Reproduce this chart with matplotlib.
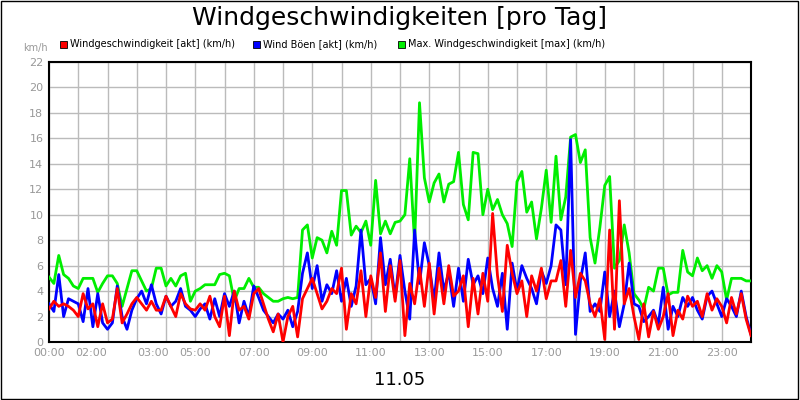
import numpy as np
import matplotlib.pyplot as plt
from matplotlib.patches import Rectangle

# ------------------ Data (10-minute samples, 00:00 - 24:00) ------------------
max_wind = [5.1, 4.6, 6.8, 5.3, 5.0, 4.4,  4.2, 5.0, 5.0, 5.0, 3.9, 4.6,
            5.2, 5.2, 4.6, 2.8, 4.2, 5.6,  5.6, 4.8, 4.0, 4.2, 5.8, 5.8,
            4.4, 5.0, 4.4, 5.2, 5.4, 3.2,  4.0, 4.2, 4.5, 4.5, 4.5, 5.3,
            5.4, 5.2, 3.2, 4.2, 4.2, 5.0,  4.3, 4.3, 3.8, 3.5, 3.2, 3.2,
            3.4, 3.5, 3.4, 3.5, 8.8, 9.2,  6.6, 8.2, 8.0, 7.0, 8.7, 7.6,
            11.9, 11.9, 8.4, 9.1, 8.6, 9.5,  7.6, 12.7, 8.5, 9.5, 8.5, 9.4,
            9.5, 10.0, 14.4, 7.8, 18.8, 12.9,  11.0, 12.5, 13.2, 11.0, 12.4, 12.6,
            14.9, 10.8, 9.6, 14.9, 14.8, 10.0,  12.0, 10.4, 11.2, 10.0, 9.3, 7.5,
            12.6, 13.4, 10.2, 11.0, 8.1, 10.5,  13.5, 9.4, 14.6, 9.6, 11.4, 16.1,
            16.3, 14.1, 15.1, 8.2, 6.2, 9.0,  12.3, 13.0, 5.8, 6.4, 9.2, 7.0,
            3.8, 3.3, 2.6, 4.3, 4.0, 5.8,  5.8, 3.7, 3.9, 3.9, 7.2, 5.5,
            5.2, 6.6, 5.6, 6.0, 5.0, 6.0,  5.5, 3.3, 5.0, 5.0, 5.0, 4.8, 4.8]

gust = [3.0, 2.4, 5.3, 2.0, 3.4, 3.2,  3.0, 1.6, 4.2, 1.2, 3.8, 1.5,
        1.0, 1.5, 4.4, 2.0, 1.0, 2.5,  3.4, 4.0, 3.0, 4.5, 3.0, 2.2,
        3.6, 2.8, 3.2, 4.2, 2.8, 2.5,  2.0, 2.6, 3.0, 1.8, 3.4, 2.0,
        3.8, 2.8, 4.0, 1.5, 3.2, 2.0,  4.4, 3.5, 2.5, 2.0, 1.5, 2.2,
        1.8, 2.5, 1.2, 2.4, 5.4, 7.0,  4.2, 6.0, 3.2, 4.5, 3.8, 5.6,
        3.2, 5.0, 2.8, 4.4, 8.8, 4.5,  5.0, 3.0, 8.2, 4.5, 6.5, 3.5,
        6.8, 4.0, 1.8, 8.8, 4.6, 7.8,  6.0, 3.2, 7.0, 4.0, 5.5, 2.8,
        5.8, 3.2, 6.5, 4.5, 5.2, 3.8,  6.6, 4.2, 2.8, 5.4, 1.0, 6.2,
        4.0, 6.0, 5.0, 4.2, 3.0, 5.6,  4.6, 6.0, 9.2, 8.8, 4.5, 15.9,
        0.6, 4.8, 7.0, 2.4, 3.0, 2.4,  5.5, 2.0, 4.0, 1.2, 3.0, 6.2,
        3.0, 2.8, 1.6, 2.0, 2.5, 1.4,  4.3, 1.0, 2.8, 2.0, 3.5, 2.8,
        3.5, 2.5, 1.8, 3.6, 4.0, 3.0,  2.0, 3.4, 2.8, 2.0, 4.0, 2.0, 0.6]

wind = [2.6, 3.2, 2.8, 3.0, 2.8, 2.5,  2.0, 3.8, 2.6, 3.0, 1.2, 3.0,
        1.5, 1.8, 4.2, 1.5, 2.2, 3.0,  3.5, 3.0, 2.5, 3.2, 2.5, 2.5,
        3.6, 2.8, 2.0, 3.8, 3.0, 2.6,  2.5, 3.0, 2.5, 3.6, 2.0, 1.2,
        3.6, 0.5, 4.0, 2.5, 2.8, 1.8,  3.8, 4.2, 3.0, 1.8, 0.8, 2.2,
        0.0, 2.0, 2.8, 0.4, 3.4, 4.2,  5.0, 3.8, 2.6, 3.2, 4.2, 3.8,
        5.8, 1.0, 3.8, 3.0, 5.6, 2.0,  5.2, 3.5, 7.0, 2.4, 6.0, 3.2,
        6.4, 0.5, 4.6, 3.0, 5.8, 2.8,  6.2, 2.2, 5.8, 3.0, 6.0, 3.6,
        4.0, 5.2, 1.2, 5.0, 2.2, 5.4,  3.2, 10.1, 5.2, 2.4, 7.6, 5.4,
        3.8, 4.8, 2.0, 5.2, 4.0, 5.8,  3.4, 4.8, 4.8, 6.4, 2.8, 7.2,
        3.5, 5.4, 4.8, 3.0, 2.0, 3.4,  0.2, 8.8, 1.0, 11.1, 3.0, 4.2,
        2.0, 0.2, 3.0, 0.4, 2.4, 1.0,  2.0, 3.8, 0.5, 2.5, 1.8, 3.6,
        2.8, 3.2, 2.0, 3.8, 2.5, 3.4,  2.8, 1.5, 3.5, 2.2, 3.8, 1.8, 0.5]

hours = np.arange(len(wind)) / 6.0
tick_hours = [0, 2, 3, 5, 7, 9, 11, 13, 15, 17, 19, 21, 23]
tick_labels = ["%02d:00" % h for h in tick_hours]

# ------------------ Figure ------------------
fig = plt.figure(figsize=(8, 4), dpi=100)
fig.patches.append(Rectangle((0.001, 0.002), 0.997, 0.996, transform=fig.transFigure,
                             fill=False, edgecolor="black", linewidth=1))

ax = fig.add_axes([49 / 800, 1 - 342 / 400, 702 / 800, 280 / 400])
ax.plot(hours, max_wind, color="#00ee00", linewidth=2, zorder=3)
ax.plot(hours, gust, color="#0000ff", linewidth=2, zorder=4)
ax.plot(hours, wind, color="#ff0000", linewidth=2, zorder=5)

ax.set_xlim(0, 24)
ax.set_ylim(0, 22)
ax.set_yticks(np.arange(0, 23, 2))
ax.set_xticks(np.arange(0, 25, 1), minor=True)
ax.set_xticks(tick_hours)
ax.set_xticklabels(tick_labels)
ax.grid(True, which="both", color="#bbbbbb", linewidth=1)
ax.set_axisbelow(True)
ax.tick_params(which="both", length=0, labelsize=8, colors="#999999", pad=4)
# 02:00 and 03:00 sit close together; nudge them apart a little
ax.get_xticklabels()[1].set_ha("right")
ax.get_xticklabels()[2].set_ha("left")
for s in ax.spines.values():
    s.set_color("black")
    s.set_linewidth(1.5)

# Title, unit and date
fig.text(0.5, 0.955, "Windgeschwindigkeiten [pro Tag]", ha="center", va="center", fontsize=18)
fig.text(0.044, 0.88, "km/h", ha="center", va="center", fontsize=7, color="#999999")
fig.text(0.5, 0.05, "11.05", ha="center", va="center", fontsize=13)

# Legend with square markers
legend_items = [("Windgeschwindigkeit [akt] (km/h)", "#ff0000", 60),
                ("Wind Böen [akt] (km/h)", "#0000ff", 253),
                ("Max. Windgeschwindigkeit [max] (km/h)", "#00ee00", 398)]
for label, col, px in legend_items:
    fig.patches.append(Rectangle((px / 800, 1 - 48 / 400), 7 / 800, 7 / 400,
                                 transform=fig.transFigure, facecolor=col,
                                 edgecolor="black", linewidth=0.6))
    fig.text((px + 10) / 800, 1 - 44 / 400, label, ha="left", va="center", fontsize=7)

fig.savefig("out.png", dpi=100, facecolor="white")
